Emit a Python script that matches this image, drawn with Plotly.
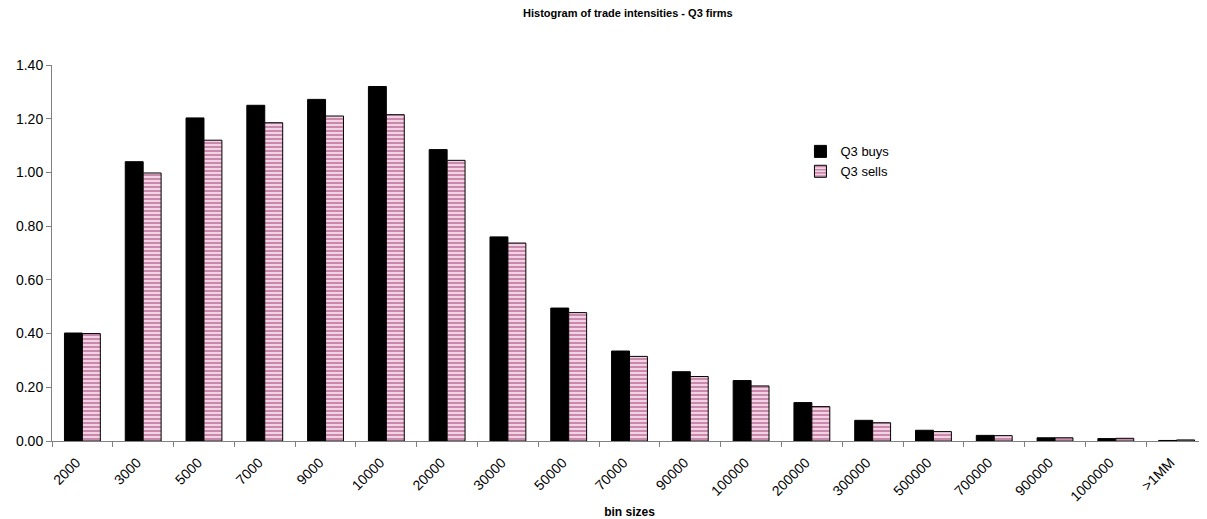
import plotly.graph_objects as go

categories = ["2000", "3000", "5000", "7000", "9000", "10000", "20000", "30000", "50000",
              "70000", "90000", "100000", "200000", "300000", "500000", "700000", "900000",
              "1000000", ">1MM"]
q3_buys = [0.402, 1.04, 1.203, 1.25, 1.272, 1.32, 1.085, 0.76, 0.495,
           0.335, 0.258, 0.225, 0.143, 0.077, 0.040, 0.021, 0.012, 0.009, 0.002]
q3_sells = [0.40, 0.998, 1.12, 1.185, 1.21, 1.215, 1.045, 0.737, 0.478,
            0.315, 0.240, 0.205, 0.128, 0.068, 0.035, 0.020, 0.012, 0.010, 0.004]

FONT = "Liberation Sans, Arial, sans-serif"

fig = go.Figure()
fig.add_trace(go.Bar(
    x=categories, y=q3_buys, name="Q3 buys",
    marker=dict(color="black", line=dict(color="black", width=1)),
))
fig.add_trace(go.Bar(
    x=categories, y=q3_sells, name="Q3 sells",
    marker=dict(color="#f0d2e2", line=dict(color="black", width=1),
                pattern=dict(shape="-", fgcolor="#a33f75", bgcolor="#f0d2e2",
                             size=4, solidity=0.5)),
))

fig.update_layout(
    width=1199, height=511,
    margin=dict(l=44, r=0, t=57, b=78),
    paper_bgcolor="white", plot_bgcolor="white",
    font=dict(family=FONT, size=14, color="black"),
    barmode="group", bargap=0.41, bargroupgap=0,
    title=dict(text="<b>Histogram of trade intensities - Q3 firms</b>",
               x=0.517, xanchor="center", y=0.99, yanchor="middle",
               font=dict(size=11, family=FONT)),
    showlegend=True,
    legend=dict(x=0.648, y=0.81, xanchor="left", yanchor="top",
                bgcolor="rgba(0,0,0,0)", font=dict(size=13, family=FONT),
                itemwidth=30),
)
fig.update_xaxes(
    type="category", showline=True, linecolor="#808080", linewidth=1,
    ticks="outside", tickson="boundaries", ticklen=5, tickcolor="#808080",
    tickangle=-45, tickfont=dict(size=14), automargin=False,
    ticklabelstandoff=7, ticklabelshift=-6,
    title=dict(text="<b>bin sizes</b>", font=dict(size=12), standoff=6),
    showgrid=False,
)
fig.update_yaxes(
    range=[0, 1.4], dtick=0.2, tickformat=".2f", showline=True,
    linecolor="#808080", linewidth=1, ticks="outside", ticklen=5,
    tickcolor="#808080", showgrid=False, zeroline=False,
    tickfont=dict(size=14), automargin=False,
)

fig.write_html("out.html")
